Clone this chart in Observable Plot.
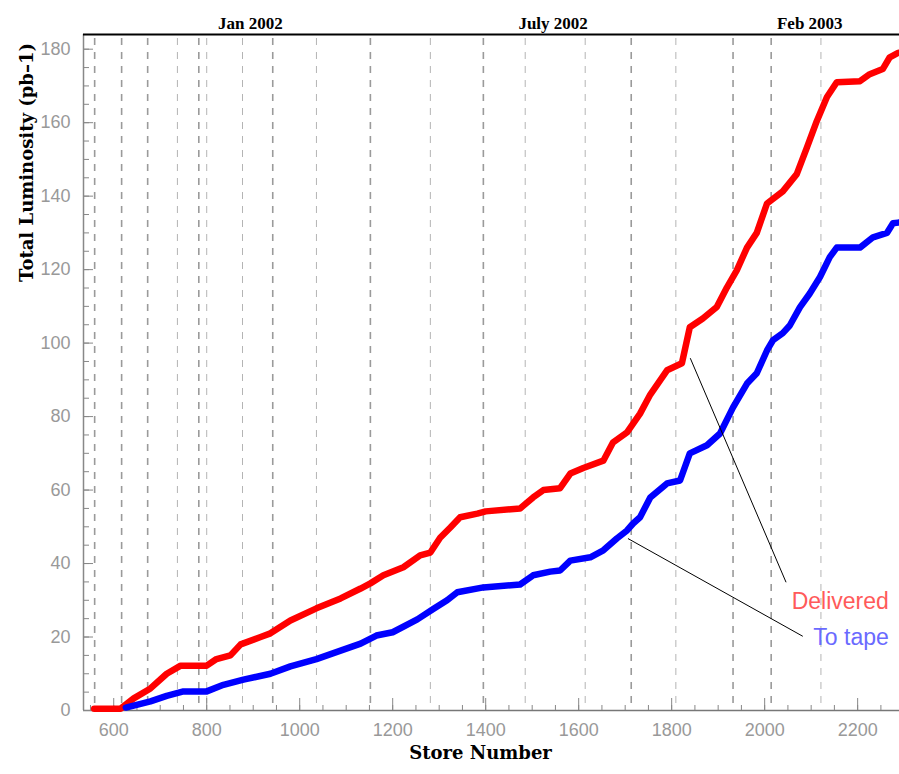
<!DOCTYPE html>
<html>
<head>
<meta charset="utf-8">
<script src="https://cdn.jsdelivr.net/npm/d3@7"></script>
<script src="https://cdn.jsdelivr.net/npm/@observablehq/plot@0.6"></script>
<style>
  html, body { margin: 0; padding: 0; background: #fff; }
</style>
</head>
<body>
<div id="chart"></div>
<script>
// ---- data ----
const deliveredStore = [558, 615, 643, 679, 714, 744, 800, 821, 851, 873, 916, 937, 980, 1036, 1088, 1131, 1152, 1180, 1223, 1259, 1281, 1302, 1324, 1345, 1382, 1400, 1474, 1502, 1524, 1560, 1582, 1610, 1653, 1674, 1704, 1732, 1754, 1790, 1822, 1839, 1867, 1897, 1919, 1940, 1962, 1983, 2005, 2039, 2069, 2091, 2112, 2134, 2155, 2205, 2226, 2254, 2269, 2287];
const deliveredLumi  = [0.5, 0.5, 3.3, 6, 10, 12.2, 12.2, 14, 15, 18, 20, 21, 24.5, 27.8, 30.5, 33.2, 34.6, 36.8, 39, 42.2, 43, 47, 49.8, 52.6, 53.6, 54.2, 55, 58, 60, 60.5, 64.5, 66, 68, 73, 75.7, 80.8, 86, 92.6, 94.5, 104.3, 106.7, 109.8, 115.2, 119.8, 126, 130, 138, 141.3, 146, 153.3, 160.4, 167, 171, 171.3, 173.2, 174.6, 177.8, 179];

const tapeStore = [626, 679, 714, 750, 800, 836, 879, 937, 980, 1036, 1088, 1131, 1165, 1200, 1253, 1288, 1317, 1339, 1395, 1474, 1502, 1539, 1560, 1582, 1625, 1653, 1682, 1704, 1717, 1732, 1754, 1790, 1818, 1839, 1876, 1904, 1932, 1962, 1983, 2005, 2018, 2039, 2054, 2076, 2097, 2119, 2140, 2155, 2205, 2233, 2263, 2276, 2287];
const tapeLumi  = [0.8, 2.5, 4, 5.2, 5.2, 7, 8.4, 10, 12, 14, 16.3, 18.2, 20.4, 21.3, 24.8, 27.7, 30, 32.2, 33.5, 34.3, 36.8, 37.8, 38.1, 40.8, 41.7, 43.6, 46.8, 49, 50.9, 52.6, 58, 61.8, 62.6, 70, 72.2, 75.4, 82.5, 89, 91.8, 98, 100.8, 102.7, 104.8, 109.8, 113.5, 118, 123.4, 126, 126, 128.8, 130, 132.6, 132.8];

const darkGridStores  = [559, 617, 673, 783, 942, 1152, 1395, 1713, 1932, 2014];
const lightGridStores = [737, 800, 877, 1036, 1281, 1485, 1614, 1809, 2121];

const topLabels = ["Jan 2002", "July 2002", "Feb 2003"];
const topLabelStores = [894, 1545, 2097];

const xMajorTicks = [600, 800, 1000, 1200, 1400, 1600, 1800, 2000, 2200];
const xMinorTicks = d3.range(550, 2290, 50);
const yMajorTicks = [0, 20, 40, 60, 80, 100, 120, 140, 160, 180];
const yMinorTicks = d3.range(0, 181, 5);

const seriesNames = ["Delivered", "To tape"];
const seriesColors = ["#ff0000", "#0000ff"];
const labelColors = ["#ff5a5a", "#6a6aff"];
const labelStore = [2267, 2267];
const labelLumi = [29.7, 19.9];
// leader lines: from curve point to label
const leaderFromStore = [1840, 1706];
const leaderFromLumi = [95.9, 46.8];
const leaderToStore = [2046, 2082];
const leaderToLumi = [34.9, 20.2];

// ---- build tables ----
const delivered = deliveredStore.map((s, i) => ({store: s, lumi: deliveredLumi[i]}));
const tape = tapeStore.map((s, i) => ({store: s, lumi: tapeLumi[i]}));
const labels = seriesNames.map((n, i) => ({name: n, store: labelStore[i], lumi: labelLumi[i], color: labelColors[i]}));
const leaders = seriesNames.map((n, i) => ({x1: leaderFromStore[i], y1: leaderFromLumi[i], x2: leaderToStore[i], y2: leaderToLumi[i]}));
const tops = topLabels.map((t, i) => ({text: t, store: topLabelStores[i]}));

const W = 899, H = 774;
const mL = 83, mR = 0, mT = 34, mB = 64;
const plotW = W - mL - mR, plotH = H - mT - mB;

const chart = Plot.plot({
  width: W,
  height: H,
  marginLeft: mL,
  marginRight: mR,
  marginTop: mT,
  marginBottom: mB,
  style: {background: "#fff", fontFamily: "Liberation Sans, Arial, sans-serif", overflow: "visible"},
  x: {domain: [535, 2290]},
  y: {domain: [0, 184]},
  marks: [
    // dashed vertical lines
    Plot.ruleX(lightGridStores, {stroke: "#b4b4b4", strokeWidth: 1, strokeDasharray: "7,7", insetTop: 4}),
    Plot.ruleX(darkGridStores, {stroke: "#9a9a9a", strokeWidth: 1.6, strokeDasharray: "7,7", insetTop: 4}),
    // axis lines
    Plot.ruleX([535], {stroke: "#888", strokeWidth: 1.5}),
    Plot.ruleY([0], {stroke: "#777", strokeWidth: 1.5}),
    Plot.ruleY([184], {stroke: "#000", strokeWidth: 2}),
    // inward ticks
    Plot.tickY(yMinorTicks, {y: d => d, stroke: "#888", insetRight: plotW - 6}),
    Plot.tickY(yMajorTicks, {y: d => d, stroke: "#888", insetRight: plotW - 10}),
    Plot.tickX(xMinorTicks, {x: d => d, stroke: "#888", insetTop: plotH - 5}),
    Plot.tickX(xMajorTicks, {x: d => d, stroke: "#888", insetTop: plotH - 12}),
    // tick labels
    Plot.axisY({ticks: yMajorTicks, tickSize: 0, tickPadding: 13, fontSize: 18, fill: "#999", label: null}),
    Plot.axisX({ticks: xMajorTicks, tickSize: 0, tickPadding: 13, fontSize: 18, fill: "#999", label: null, tickFormat: d => String(d)}),
    // top date labels
    Plot.text(tops, {x: "store", text: "text", frameAnchor: "top", dy: -18, fontFamily: "Liberation Serif, serif", fontWeight: "bold", fontSize: 17, fill: "#000"}),
    // curves
    Plot.line(delivered, {x: "store", y: "lumi", stroke: seriesColors[0], strokeWidth: 6.5, strokeLinejoin: "round"}),
    Plot.line(tape, {x: "store", y: "lumi", stroke: seriesColors[1], strokeWidth: 6.5, strokeLinejoin: "round"}),
    // leader lines
    Plot.link(leaders, {x1: "x1", y1: "y1", x2: "x2", y2: "y2", stroke: "#000", strokeWidth: 1}),
    // series labels
    Plot.text(labels, {x: "store", y: "lumi", text: "name", fill: "color", textAnchor: "end", fontSize: 23, fontFamily: "Liberation Sans, Arial, sans-serif"}),
    // axis titles
    Plot.text(["Total Luminosity (pb\u20131)"], {text: d => d, frameAnchor: "top-left", textAnchor: "middle", dx: -63, dy: 128, rotate: -90, fontFamily: "DejaVu Serif, serif", fontWeight: "bold", fontSize: 18, fill: "#000"}),
    Plot.text(["Store Number"], {text: d => d, frameAnchor: "bottom", dx: -11, dy: 48, fontFamily: "DejaVu Serif, serif", fontWeight: "bold", fontSize: 18, fill: "#000"})
  ]
});

document.getElementById("chart").appendChild(chart);
</script>
</body>
</html>
